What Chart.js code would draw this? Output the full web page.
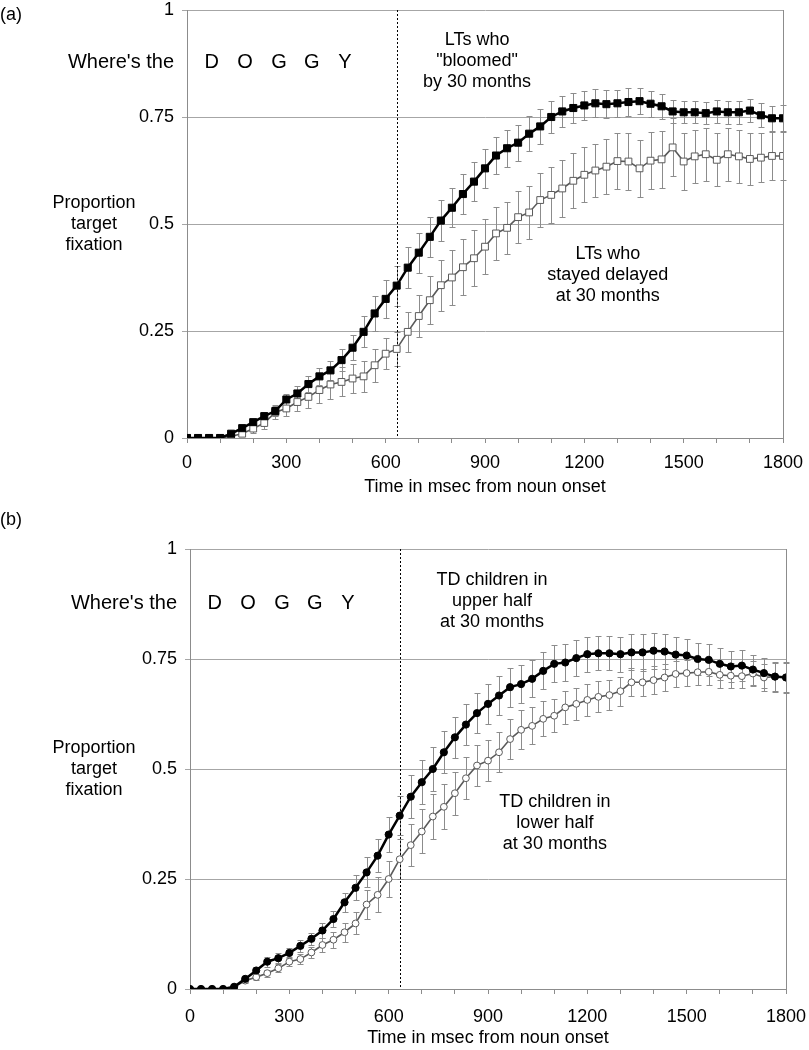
<!DOCTYPE html>
<html>
<head>
<meta charset="utf-8">
<script src="https://cdn.jsdelivr.net/npm/chart.js@4.4.1/dist/chart.umd.min.js"></script>
<style>
  html, body { margin: 0; padding: 0; background: #fff; }
  canvas { display: block; }
</style>
</head>
<body>
<canvas id="panelA" width="809" height="512"></canvas>
<canvas id="panelB" width="809" height="538"></canvas>
<script>
// Data
const timeMs = [
  0, 33.3, 66.7, 100, 133.3, 166.7, 200, 233.3, 266.7, 300,
  333.3, 366.7, 400, 433.3, 466.7, 500, 533.3, 566.7, 600, 633.3,
  666.7, 700, 733.3, 766.7, 800, 833.3, 866.7, 900, 933.3, 966.7,
  1000, 1033.3, 1066.7, 1100, 1133.3, 1166.7, 1200, 1233.3, 1266.7, 1300,
  1333.3, 1366.7, 1400, 1433.3, 1466.7, 1500, 1533.3, 1566.7, 1600, 1633.3,
  1666.7, 1700, 1733.3, 1766.7, 1800
];

// (a) LTs who "bloomed" by 30 months
const bloomedMean = [
  0, 0, 0, 0, 0.010, 0.023, 0.037, 0.051, 0.063, 0.090,
  0.104, 0.126, 0.144, 0.158, 0.182, 0.211, 0.248, 0.291, 0.325, 0.356,
  0.398, 0.433, 0.470, 0.508, 0.538, 0.570, 0.599, 0.630, 0.660, 0.677,
  0.690, 0.711, 0.728, 0.750, 0.763, 0.771, 0.777, 0.782, 0.780, 0.782,
  0.785, 0.787, 0.781, 0.775, 0.763, 0.761, 0.761, 0.759, 0.763, 0.761,
  0.761, 0.765, 0.754, 0.747, 0.747
];
const bloomedSE = [
  0, 0, 0, 0, 0.004, 0.006, 0.008, 0.010, 0.012, 0.013,
  0.017, 0.018, 0.019, 0.022, 0.026, 0.029, 0.036, 0.040, 0.045, 0.047,
  0.048, 0.047, 0.047, 0.047, 0.046, 0.046, 0.046, 0.045, 0.044, 0.043,
  0.042, 0.041, 0.040, 0.038, 0.036, 0.034, 0.033, 0.033, 0.032, 0.032,
  0.032, 0.031, 0.030, 0.029, 0.027, 0.026, 0.026, 0.026, 0.026, 0.027,
  0.027, 0.027, 0.028, 0.029, 0.030
];

// (a) LTs who stayed delayed at 30 months
const delayedMean = [
  0, 0, 0, 0, 0.004, 0.010, 0.022, 0.035, 0.060, 0.069,
  0.084, 0.096, 0.112, 0.125, 0.131, 0.139, 0.144, 0.170, 0.197, 0.208,
  0.248, 0.285, 0.322, 0.357, 0.375, 0.399, 0.420, 0.447, 0.478, 0.491,
  0.516, 0.527, 0.556, 0.568, 0.583, 0.601, 0.615, 0.625, 0.634, 0.647,
  0.646, 0.630, 0.648, 0.651, 0.679, 0.646, 0.658, 0.663, 0.650, 0.663,
  0.658, 0.652, 0.655, 0.659, 0.659
];
const delayedSE = [
  0, 0, 0, 0, 0.004, 0.006, 0.010, 0.014, 0.016, 0.018,
  0.022, 0.026, 0.031, 0.033, 0.034, 0.035, 0.036, 0.038, 0.036, 0.040,
  0.046, 0.050, 0.056, 0.060, 0.064, 0.066, 0.066, 0.064, 0.062, 0.060,
  0.060, 0.062, 0.064, 0.066, 0.066, 0.064, 0.064, 0.063, 0.064, 0.066,
  0.066, 0.066, 0.066, 0.066, 0.068, 0.066, 0.062, 0.062, 0.062, 0.062,
  0.062, 0.060, 0.058, 0.056, 0.056
];

// (b) TD children in upper half at 30 months
const upperMean = [
  0, 0, 0, 0, 0.005, 0.023, 0.042, 0.062, 0.070, 0.082,
  0.098, 0.114, 0.133, 0.159, 0.197, 0.230, 0.265, 0.303, 0.351, 0.394,
  0.437, 0.470, 0.500, 0.538, 0.572, 0.601, 0.627, 0.648, 0.667, 0.686,
  0.693, 0.705, 0.723, 0.739, 0.742, 0.752, 0.761, 0.763, 0.763, 0.761,
  0.765, 0.765, 0.769, 0.767, 0.760, 0.758, 0.750, 0.748, 0.739, 0.733,
  0.735, 0.726, 0.718, 0.710, 0.708
];
const upperSE = [
  0, 0, 0, 0, 0.004, 0.007, 0.009, 0.011, 0.011, 0.012,
  0.013, 0.014, 0.016, 0.018, 0.022, 0.028, 0.034, 0.037, 0.040, 0.045,
  0.049, 0.050, 0.049, 0.048, 0.047, 0.046, 0.045, 0.045, 0.045, 0.044,
  0.043, 0.042, 0.042, 0.042, 0.042, 0.041, 0.040, 0.039, 0.039, 0.040,
  0.041, 0.042, 0.041, 0.040, 0.039, 0.038, 0.037, 0.036, 0.036, 0.035,
  0.035, 0.034, 0.034, 0.034, 0.034
];

// (b) TD children in lower half at 30 months
const lowerMean = [
  0, 0, 0, 0, 0.004, 0.019, 0.027, 0.036, 0.047, 0.062,
  0.068, 0.083, 0.100, 0.112, 0.129, 0.149, 0.192, 0.214, 0.250, 0.295,
  0.327, 0.358, 0.392, 0.414, 0.445, 0.479, 0.508, 0.519, 0.538, 0.568,
  0.589, 0.598, 0.614, 0.621, 0.640, 0.648, 0.657, 0.664, 0.668, 0.677,
  0.697, 0.697, 0.702, 0.708, 0.716, 0.718, 0.720, 0.721, 0.714, 0.712,
  0.711, 0.717, 0.708, 0.710, 0.708
];
const lowerSE = [
  0, 0, 0, 0, 0.003, 0.005, 0.006, 0.008, 0.009, 0.010,
  0.011, 0.013, 0.015, 0.018, 0.022, 0.025, 0.032, 0.040, 0.042, 0.045,
  0.048, 0.050, 0.051, 0.051, 0.049, 0.048, 0.046, 0.046, 0.045, 0.045,
  0.044, 0.042, 0.040, 0.038, 0.037, 0.036, 0.036, 0.035, 0.034, 0.033,
  0.032, 0.031, 0.031, 0.030, 0.030, 0.029, 0.029, 0.029, 0.029, 0.028,
  0.028, 0.028, 0.030, 0.032, 0.035
];

// Axis ticks and annotations
const xLabelTicks = [0, 300, 600, 900, 1200, 1500, 1800];   // Labelled x ticks (minor ticks every 100 ms)
const yTickLabels = ['0', '0.25', '0.5', '0.75', '1'];
const onsetLineMs = 633.3;                                   // Dotted vertical reference line
const doggyLetters = ['D', 'O', 'G', 'G', 'Y'];
const doggyTimes = [75, 175, 278, 377, 477];

const FONT = '"Liberation Sans", Arial, sans-serif';

function toPoints(values) {
  // Pairs each mean with its time stamp.
  return values.map((v, i) => ({ x: timeMs[i], y: v }));
}

// Error bars, drawn under the lines and markers
const errorBars = {
  id: 'errorBars',
  beforeDatasetsDraw(chart) {
    const { ctx } = chart;
    const yScale = chart.scales.y;
    ctx.save();
    ctx.strokeStyle = '#8c8c8c';
    ctx.lineWidth = 1;
    chart.data.datasets.forEach((ds, i) => {
      chart.getDatasetMeta(i).data.forEach((pt, j) => {
        const e = ds.errors[j];
        if (!e) return;
        const top = Math.round(yScale.getPixelForValue(ds.data[j].y + e)) + 0.5;
        const bot = Math.round(yScale.getPixelForValue(ds.data[j].y - e)) + 0.5;
        const x = Math.round(pt.x) + 0.5;
        ctx.beginPath();
        ctx.moveTo(x, top); ctx.lineTo(x, bot);
        ctx.moveTo(x - 3, top); ctx.lineTo(x + 3, top);
        ctx.moveTo(x - 3, bot); ctx.lineTo(x + 3, bot);
        ctx.stroke();
      });
    });

    /* Dotted reference line */
    const xLine = Math.round(chart.scales.x.getPixelForValue(onsetLineMs)) + 0.5;
    const area = chart.chartArea;
    ctx.strokeStyle = '#000';
    ctx.setLineDash([2, 2]);
    ctx.beginPath();
    ctx.moveTo(xLine, area.top);
    ctx.lineTo(xLine, area.bottom);
    ctx.stroke();
    ctx.restore();
  },
};

// Texts and plot frame
const panelText = {
  id: 'panelText',
  afterDraw(chart, args, opts) {
    const { ctx, chartArea: area } = chart;
    const xs = chart.scales.x;
    const ys = chart.scales.y;
    ctx.save();

    /* Right border of the plot */
    ctx.strokeStyle = '#8c8c8c';
    ctx.lineWidth = 1;
    ctx.beginPath();
    ctx.moveTo(Math.round(area.right) + 0.5, area.top);
    ctx.lineTo(Math.round(area.right) + 0.5, area.bottom);
    ctx.stroke();

    ctx.fillStyle = '#000';
    ctx.textBaseline = 'middle';

    /* Panel letter */
    ctx.font = '18px ' + FONT;
    ctx.textAlign = 'left';
    ctx.fillText(opts.panel, 0, opts.panelY);

    /* Y axis title, horizontal */
    ctx.textAlign = 'center';
    const midY = (area.top + area.bottom) / 2;
    ['Proportion', 'target', 'fixation'].forEach((line, k) => {
      ctx.fillText(line, 94, midY + (k - 1) * 21);
    });

    /* Sentence */
    const sentenceY = ys.getPixelForValue(0.877);
    ctx.font = '20px ' + FONT;
    ctx.textAlign = 'right';
    ctx.fillText("Where's the", area.left - 13, sentenceY);
    ctx.textAlign = 'center';
    doggyLetters.forEach((ch, k) => ctx.fillText(ch, xs.getPixelForValue(doggyTimes[k]), sentenceY));

    /* Group labels */
    ctx.font = '18px ' + FONT;
    opts.notes.forEach((note) => {
      const x = xs.getPixelForValue(note.x);
      const y = ys.getPixelForValue(note.y);
      note.lines.forEach((line, k) => ctx.fillText(line, x, y + k * 21));
    });
    ctx.restore();
  },
};

function makePanel(canvas, cfg) {
  // Builds one panel with two series, error bars and annotations.

  Chart.defaults.font.family = FONT;
  Chart.defaults.font.size = 18;
  Chart.defaults.color = '#000';

  const [dark, light] = cfg.series;

  return new Chart(canvas, {
    type: 'line',
    data: {
      datasets: [
        {
          data: toPoints(dark.mean),
          errors: dark.se,
          borderColor: '#000',
          borderWidth: 2.5,
          pointStyle: cfg.marker,
          pointRadius: cfg.marker === 'rect' ? 5 : 3.6,
          pointBackgroundColor: '#000',
          pointBorderColor: '#000',
          pointBorderWidth: 1,
          tension: 0,
        },
        {
          data: toPoints(light.mean),
          errors: light.se,
          borderColor: '#5a5a5a',
          borderWidth: 1.6,
          pointStyle: cfg.marker,
          pointRadius: cfg.marker === 'rect' ? 4.8 : 3.4,
          pointBackgroundColor: '#fff',
          pointBorderColor: '#5a5a5a',
          pointBorderWidth: 1,
          tension: 0,
        },
      ],
    },
    options: {
      responsive: false,
      animation: false,
      layout: { padding: { left: 0, right: cfg.right, top: cfg.top, bottom: 0 } },
      scales: {
        x: {
          type: 'linear',
          min: 0,
          max: 1800,
          afterFit: (s) => {
            s.height = cfg.xHeight;
            s.paddingLeft = 0;
            s.paddingRight = 0;
          },
          grid: { drawOnChartArea: false, color: '#8c8c8c', tickLength: 5 },
          border: { color: '#8c8c8c' },
          ticks: {
            stepSize: 100,
            autoSkip: false,
            maxRotation: 0,
            padding: cfg.xPad,
            callback: (v) => (xLabelTicks.includes(v) ? String(v) : ''),
          },
          title: {
            display: true,
            text: 'Time in msec from noun onset',
            font: { size: 18 },
            padding: { top: 0, bottom: cfg.titlePad },
          },
        },
        y: {
          min: 0,
          max: 1,
          afterFit: (s) => {
            s.width = cfg.left;
            s.paddingTop = 0;
            s.paddingBottom = 0;
          },
          grid: { color: '#a6a6a6', tickLength: 5 },
          border: { color: '#8c8c8c' },
          ticks: {
            stepSize: 0.25,
            padding: 8,
            callback: (v) => yTickLabels[Math.round(v * 4)],
          },
        },
      },
      plugins: {
        legend: { display: false },
        tooltip: { enabled: false },
        panelText: { panel: cfg.panel, panelY: cfg.panelY, notes: cfg.notes },
      },
    },
    plugins: [errorBars, panelText],
  });
}

makePanel(document.getElementById('panelA'), {
  panel: '(a)', panelY: 15, marker: 'rect',
  left: 187, right: 26, top: 10, xHeight: 74, xPad: 9, titlePad: 14,
  series: [
    { mean: bloomedMean, se: bloomedSE },
    { mean: delayedMean, se: delayedSE },
  ],
  notes: [
    { x: 876, y: 0.93, lines: ['LTs who', '"bloomed"', 'by 30 months'] },
    { x: 1271, y: 0.43, lines: ['LTs who', 'stayed delayed', 'at 30 months'] },
  ],
});

makePanel(document.getElementById('panelB'), {
  panel: '(b)', panelY: 8, marker: 'circle',
  left: 190, right: 23, top: 37, xHeight: 61, xPad: 12, titlePad: 1,
  series: [
    { mean: upperMean, se: upperSE },
    { mean: lowerMean, se: lowerSE },
  ],
  notes: [
    { x: 912, y: 0.93, lines: ['TD children in', 'upper half', 'at 30 months'] },
    { x: 1102, y: 0.425, lines: ['TD children in', 'lower half', 'at 30 months'] },
  ],
});
</script>
</body>
</html>
